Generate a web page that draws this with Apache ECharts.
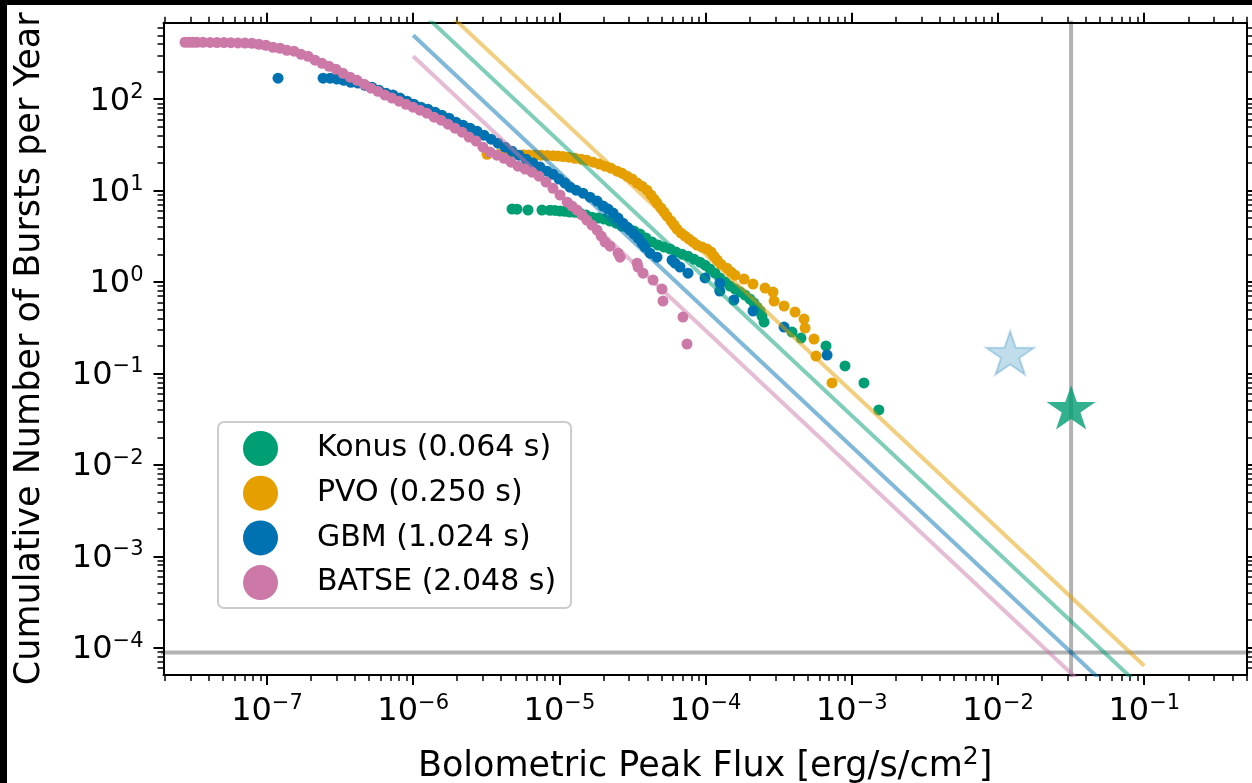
<!DOCTYPE html>
<html><head><meta charset="utf-8">
<script src="https://cdn.jsdelivr.net/npm/echarts@6/dist/echarts.min.js"></script>
<style>html,body{margin:0;padding:0;background:#000;width:1252px;height:783px;overflow:hidden}
#chart{position:absolute;left:7px;top:5px;width:1245px;height:778px;background:#fff}</style>
</head><body><div id="chart"></div>
<script>
// ---------------- data ----------------
const seriesNames = ['Konus (0.064 s)', 'PVO (0.250 s)', 'GBM (1.024 s)', 'BATSE (2.048 s)'];

const konusFlux = [4.74e-6,5.13e-6,6.10e-6,7.60e-6,8.63e-6,9.33e-6,1.01e-5,1.09e-5,1.18e-5,1.28e-5,1.38e-5,1.52e-5,1.67e-5,1.84e-5,2.02e-5,2.22e-5,2.44e-5,2.68e-5,2.95e-5,3.24e-5,3.56e-5,3.91e-5,4.30e-5,4.73e-5,5.19e-5,5.71e-5,6.27e-5,6.90e-5,7.58e-5,8.33e-5,9.16e-5,9.91e-5,1.07e-4,1.16e-4,1.25e-4,1.36e-4,1.47e-4,1.59e-4,1.72e-4,1.86e-4,2.01e-4,2.14e-4,2.25e-4,2.36e-4,2.43e-4,2.51e-4,3.90e-4,4.49e-4,6.66e-4,8.98e-4,1.21e-3,1.53e-3];
const konusRate = [6.28,6.26,6.14,6.12,6.10,6.08,5.97,5.95,5.82,5.80,5.68,5.40,5.13,5.01,4.88,4.64,4.41,4.09,3.89,3.61,3.35,3.03,2.74,2.54,2.41,2.30,2.13,2.02,1.92,1.78,1.65,1.53,1.39,1.25,1.11,1.00,0.904,0.838,0.777,0.721,0.652,0.589,0.533,0.482,0.425,0.365,0.284,0.244,0.200,0.121,0.0787,0.0399];

const pvoFlux = [3.20e-6,3.86e-6,4.18e-6,4.52e-6,5.64e-6,6.20e-6,6.81e-6,7.48e-6,8.23e-6,9.04e-6,9.78e-6,1.06e-5,1.16e-5,1.28e-5,1.41e-5,1.54e-5,1.70e-5,1.87e-5,2.05e-5,2.25e-5,2.48e-5,2.68e-5,2.90e-5,3.14e-5,3.40e-5,3.67e-5,3.97e-5,4.23e-5,4.44e-5,4.65e-5,4.95e-5,5.19e-5,5.44e-5,5.80e-5,6.08e-5,6.37e-5,6.79e-5,7.23e-5,7.70e-5,8.20e-5,8.73e-5,9.45e-5,1.02e-4,1.09e-4,1.14e-4,1.20e-4,1.27e-4,1.40e-4,1.49e-4,1.59e-4,1.83e-4,2.11e-4,2.55e-4,2.89e-4,2.94e-4,3.44e-4,4.09e-4,4.71e-4,4.79e-4,5.51e-4,5.69e-4,7.32e-4];
const pvoRate = [25.0,24.9,24.9,24.8,24.7,24.6,24.5,24.4,24.3,24.1,23.9,23.6,23.2,22.6,22.1,21.5,20.5,19.5,18.5,17.6,16.3,15.5,14.4,13.4,12.1,11.2,10.1,8.93,8.07,7.30,6.44,5.82,5.26,4.64,4.20,3.80,3.43,3.18,2.95,2.74,2.54,2.41,2.30,2.13,1.92,1.74,1.57,1.42,1.29,1.19,1.08,0.951,0.860,0.777,0.619,0.547,0.470,0.394,0.314,0.238,0.155,0.0787];

const gbmFlux = [1.19e-7,2.42e-7,2.70e-7,3.01e-7,3.36e-7,3.75e-7,4.19e-7,4.68e-7,5.23e-7,5.84e-7,6.52e-7,7.28e-7,8.12e-7,9.07e-7,1.01e-6,1.13e-6,1.26e-6,1.41e-6,1.57e-6,1.76e-6,1.96e-6,2.19e-6,2.45e-6,2.73e-6,3.05e-6,3.41e-6,3.80e-6,4.25e-6,4.74e-6,5.29e-6,5.91e-6,6.60e-6,7.37e-6,8.23e-6,9.04e-6,9.94e-6,1.09e-5,1.18e-5,1.30e-5,1.45e-5,1.62e-5,1.81e-5,1.99e-5,2.15e-5,2.33e-5,2.52e-5,2.72e-5,2.90e-5,3.04e-5,3.24e-5,3.45e-5,3.67e-5,3.85e-5,4.17e-5,4.65e-5,5.89e-5,6.18e-5,6.68e-5,7.58e-5,9.91e-5,1.25e-4,1.25e-4,1.56e-4,2.11e-4,3.44e-4,6.77e-4];
const gbmRate = [170,170,170,166,161,153,150,142,135,125,116,111,103,95.1,88.1,81.8,77.8,72.1,66.8,62.0,56.1,52.0,48.2,44.7,40.4,36.5,33.0,29.9,27.0,24.4,22.1,20.0,18.1,16.3,15.1,13.4,12.1,10.9,10.1,9.39,8.49,7.68,6.77,6.28,5.68,5.01,4.41,3.99,3.70,3.35,3.03,2.67,2.41,2.07,1.87,1.74,1.61,1.46,1.25,1.11,0.975,0.798,0.636,0.482,0.322,0.159];

const batseFlux = [2.75e-8,2.93e-8,3.12e-8,3.32e-8,3.65e-8,4.08e-8,4.55e-8,5.08e-8,5.67e-8,6.33e-8,7.07e-8,7.90e-8,8.82e-8,9.84e-8,1.10e-7,1.23e-7,1.37e-7,1.53e-7,1.71e-7,1.91e-7,2.13e-7,2.38e-7,2.66e-7,2.96e-7,3.31e-7,3.70e-7,4.13e-7,4.61e-7,5.14e-7,5.74e-7,6.41e-7,7.16e-7,8.00e-7,8.93e-7,9.97e-7,1.11e-6,1.24e-6,1.39e-6,1.55e-6,1.73e-6,1.93e-6,2.16e-6,2.41e-6,2.69e-6,3.00e-6,3.35e-6,3.74e-6,4.18e-6,4.67e-6,5.21e-6,5.82e-6,6.49e-6,7.25e-6,8.10e-6,9.04e-6,1.01e-5,1.13e-5,1.22e-5,1.32e-5,1.43e-5,1.54e-5,1.67e-5,1.81e-5,1.93e-5,2.05e-5,2.22e-5,2.52e-5,2.60e-5,3.40e-5,3.45e-5,3.73e-5,4.37e-5,5.03e-5,5.11e-5,7.00e-5,7.46e-5];
const batseRate = [420,420,420,419,419,418,417,416,415,413,411,409,399,389,370,361,343,335,310,295,267,247,229,213,192,174,161,146,132,122,111,103,95.1,88.1,81.8,75.9,70.4,63.6,58.9,53.3,48.2,43.6,38.5,34.8,29.9,26.4,24.4,22.6,20.5,18.5,17.2,15.9,14.4,12.4,10.6,8.93,7.48,6.77,6.12,5.40,4.76,4.20,3.70,3.18,2.74,2.47,2.07,1.87,1.61,1.46,1.25,1.05,0.838,0.619,0.414,0.210];

// power-law guide lines (N ∝ S^-1.5), end points
const fitFlux = [1e-6, 1e-1];
const konusFit = [1090, 3.45e-5];
const pvoFit = [2000, 6.35e-5];
const gbmFit = [500, 1.58e-5];
const batseFit = [295, 9.33e-6];

// highlighted events (stars) and reference lines
const starBlue = [0.0121, 0.158];
const starGreen = [0.0316, 0.039];
const refFlux = 0.0316;
const refRate = 8.89e-5;

// axes
const X_MIN = 1.96e-8, X_MAX = 0.502;
const Y_MIN = 5.03e-5, Y_MAX = 687;
const xMajor = [1e-7, 1e-6, 1e-5, 1e-4, 1e-3, 1e-2, 1e-1];
const yMajor = [1e-4, 1e-3, 1e-2, 1e-1, 1, 10, 100];
const xLabel = 'Bolometric Peak Flux [erg/s/cm{s|2}]';
const yLabel = 'Cumulative Number of Bursts per Year';

// ---------------- styles ----------------
const FONT = 'DejaVu Sans';
const colors = ['#009E73', '#E69F00', '#0072B2', '#CC79A7'];

function minors(lo, hi) {
  const out = [];
  for (let k = -9; k <= 3; k++) for (let m = 2; m <= 9; m++) {
    const v = m * Math.pow(10, k);
    if (v > lo && v < hi) out.push(v);
  }
  return out;
}
const xMinor = minors(X_MIN, X_MAX), yMinor = minors(Y_MIN, Y_MAX);

function expFmt(v) {
  const e = Math.round(Math.log10(v));
  return '{b|10}{s|' + (e < 0 ? '\u2212' : '') + Math.abs(e) + '}';
}
const richLab = {
  b: { fontFamily: FONT, fontSize: 32, lineHeight: 38, color: '#000' },
  s: { fontFamily: FONT, fontSize: 21, lineHeight: 21, verticalAlign: 'top', color: '#000' }
};

function makeAxis(kind, pos, major, labels, extra) {
  const isX = kind === 'x';
  const a = {
    type: 'log', logBase: 10, position: pos,
    min: isX ? X_MIN : Y_MIN, max: isX ? X_MAX : Y_MAX,
    splitLine: { show: false }, minorTick: { show: false }, minorSplitLine: { show: false },
    axisLine: { show: major, onZero: false, lineStyle: { color: '#000', width: 2 } },
    axisTick: {
      show: true, inside: false, length: major ? 10 : 6,
      lineStyle: { color: '#000', width: major ? 2 : 1.5 },
      customValues: major ? (isX ? xMajor : yMajor) : (isX ? xMinor : yMinor)
    },
    axisLabel: { show: false },
    axisPointer: { show: false }, silent: true
  };
  if (labels) {
    a.axisLabel = {
      show: true, customValues: isX ? xMajor : yMajor, formatter: expFmt,
      margin: isX ? 18 : 20, rich: richLab, color: '#000',
      padding: isX ? 0 : [4, 0, 0, 0]
    };
  }
  return Object.assign(a, extra || {});
}

const xAxes = [
  makeAxis('x', 'bottom', true, true, {
    name: xLabel, nameLocation: 'middle', nameGap: 70,
    nameTextStyle: { fontFamily: FONT, fontSize: 35, lineHeight: 44, color: '#000',
      rich: { s: { fontFamily: FONT, fontSize: 25, lineHeight: 24, verticalAlign: 'top', color: '#000' } } }
  }),
  makeAxis('x', 'bottom', false, false),
  makeAxis('x', 'top', true, false),
  makeAxis('x', 'top', false, false)
];
const yAxes = [
  makeAxis('y', 'left', true, true, {
    name: yLabel, nameLocation: 'middle', nameGap: 112,
    nameTextStyle: { fontFamily: FONT, fontSize: 35, lineHeight: 44, color: '#000' }
  }),
  makeAxis('y', 'left', false, false),
  makeAxis('y', 'right', true, false),
  makeAxis('y', 'right', false, false)
];

function pairs(xs, ys) { return xs.map((x, i) => [x, ys[i]]); }

const scatterData = [pairs(konusFlux, konusRate), pairs(pvoFlux, pvoRate), pairs(gbmFlux, gbmRate), pairs(batseFlux, batseRate)];
const fitData = [konusFit, pvoFit, gbmFit, batseFit];

const STAR = (() => {
  let p = '';
  for (let i = 0; i < 10; i++) {
    const r = i % 2 === 0 ? 1 : 0.381966;
    const ang = -Math.PI / 2 + i * Math.PI / 5;
    p += (i ? 'L' : 'M') + (r * Math.cos(ang)).toFixed(4) + ' ' + (r * Math.sin(ang)).toFixed(4) + ' ';
  }
  return 'path://' + p + 'Z';
})();

const series = [];
seriesNames.forEach((nm, i) => {
  series.push({
    name: nm, type: 'scatter', xAxisIndex: 0, yAxisIndex: 0,
    data: scatterData[i], symbol: 'circle', symbolSize: 11, z: 2,
    itemStyle: { color: colors[i], opacity: 1 }, silent: true
  });
});
seriesNames.forEach((nm, i) => {
  series.push({
    name: nm + ' fit', type: 'line', xAxisIndex: 0, yAxisIndex: 0,
    data: pairs(fitFlux, fitData[i]), showSymbol: false, symbol: 'none', clip: true, z: 3,
    lineStyle: { color: colors[i], width: 4, opacity: 0.5 }, silent: true
  });
});
// reference lines: a vertical at refFlux and a horizontal at refRate, running past the axis limits (clipped)
series.push({
  name: 'vref', type: 'line', xAxisIndex: 0, yAxisIndex: 0, z: 2, clip: true,
  data: [[refFlux, 1e-6], [refFlux, 1e4]], showSymbol: false, symbol: 'none',
  lineStyle: { color: '#000', opacity: 0.3, width: 4 }, silent: true
});
series.push({
  name: 'href', type: 'line', xAxisIndex: 0, yAxisIndex: 0, z: 2, clip: true,
  data: [[1e-9, refRate], [10, refRate]], showSymbol: false, symbol: 'none',
  lineStyle: { color: '#000', opacity: 0.3, width: 4 }, silent: true
});
series.push({
  name: 'star1', type: 'scatter', xAxisIndex: 0, yAxisIndex: 0, data: [starBlue],
  symbol: STAR, symbolSize: [48, 45.7], symbolKeepAspect: true, symbolOffset: [0, -2.4], z: 4,
  itemStyle: { color: 'rgba(0,114,178,0.3)', borderColor: 'rgba(0,114,178,0.3)', borderWidth: 2 }, silent: true
});
series.push({
  name: 'star2', type: 'scatter', xAxisIndex: 0, yAxisIndex: 0, data: [starGreen],
  symbol: STAR, symbolSize: [49, 46.6], symbolKeepAspect: true, symbolOffset: [0, -3.5], z: 4,
  itemStyle: { color: colors[0] }, silent: true
});

const chart = echarts.init(document.getElementById('chart'), null, { renderer: 'canvas' });
chart.setOption({
  animation: false,
  backgroundColor: '#ffffff',
  textStyle: { fontFamily: FONT },
  grid: { left: 156.5, top: 17.7, width: 1083.2, height: 652.3, containLabel: false, outerBoundsMode: 'none', show: false },
  xAxis: xAxes,
  yAxis: yAxes,
  legend: {
    data: seriesNames, orient: 'vertical', left: 211, top: 417,
    padding: [9, 15, 8, 25], itemWidth: 35, itemHeight: 35, itemGap: 9.7, icon: 'circle',
    borderColor: '#cccccc', borderWidth: 2, borderRadius: 6, backgroundColor: 'rgba(255,255,255,0.8)',
    textStyle: { fontFamily: FONT, fontSize: 30, color: '#000', padding: [0, 0, 0, 34] },
    selectedMode: false
  },
  series: series
});
</script></body></html>
